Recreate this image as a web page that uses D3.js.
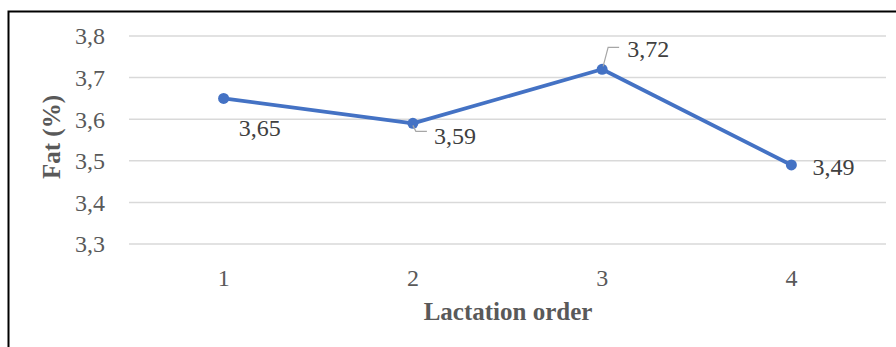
<!DOCTYPE html>
<html><head><meta charset="utf-8">
<script src="https://cdn.jsdelivr.net/npm/d3@7"></script>
<style>body{margin:0;background:#fff}svg{display:block}text{font-family:"Liberation Serif","Times New Roman",Times,serif}</style>
</head><body>
<script>
const categories = ["1","2","3","4"];
const fatValues = [3.65, 3.59, 3.72, 3.49];
const labels = ["3,65","3,59","3,72","3,49"];
const yTicks = [3.3,3.4,3.5,3.6,3.7,3.8];

const W=896,H=347;
const svg=d3.select("body").append("svg").attr("width",W).attr("height",H);
svg.append("rect").attr("x",8.5).attr("y",11.5).attr("width",W).attr("height",H).attr("fill","#fff").attr("stroke","#000").attr("stroke-width",2);

const x=d3.scaleBand().domain(categories).range([129,886]);
const y=d3.scaleLinear().domain([3.3,3.8]).range([244,36]);
const gray="#595959";
const fs=24;

svg.append("g").selectAll("line").data(yTicks).join("line")
 .attr("x1",129).attr("x2",886).attr("y1",d=>y(d)).attr("y2",d=>y(d))
 .attr("stroke","#d9d9d9").attr("stroke-width",1.5);

svg.append("g").selectAll("text").data(yTicks).join("text")
 .attr("x",105).attr("y",d=>y(d)).attr("dy","0.35em").attr("text-anchor","end")
 .attr("font-size",fs).attr("fill",gray)
 .text(d=>d.toFixed(1).replace(".",","));

svg.append("g").selectAll("text").data(categories).join("text")
 .attr("x",d=>x(d)+x.bandwidth()/2).attr("y",278).attr("dy","0.35em").attr("text-anchor","middle")
 .attr("font-size",fs).attr("fill",gray).text(d=>d);

svg.append("text").attr("x",508).attr("y",311).attr("dy","0.35em").attr("text-anchor","middle")
 .attr("font-size",fs+1).attr("font-weight","bold").attr("fill",gray).text("Lactation order");
svg.append("text").attr("transform","translate(51,137) rotate(-90)").attr("dy","0.35em").attr("text-anchor","middle")
 .attr("font-size",fs+1).attr("font-weight","bold").attr("fill",gray).text("Fat (%)");

const pts=categories.map((c,i)=>[x(c)+x.bandwidth()/2,y(fatValues[i])]);
svg.append("path").attr("d",d3.line()(pts)).attr("fill","none").attr("stroke","#4472C4").attr("stroke-width",3.8).attr("stroke-linejoin","round");
svg.append("g").selectAll("circle").data(pts).join("circle").attr("cx",d=>d[0]).attr("cy",d=>d[1]).attr("r",5.5).attr("fill","#4472C4");

const p2=pts[1],p3=pts[2];
svg.append("path").attr("d",`M${p2[0]},${p2[1]+2} L${p2[0]+3},${p2[1]+8} L${p2[0]+14},${p2[1]+8}`).attr("fill","none").attr("stroke","#a6a6a6").attr("stroke-width",1.2);
svg.append("path").attr("d",`M${p3[0]+1},${p3[1]-3} L${p3[0]+6},${p3[1]-22} L${p3[0]+17},${p3[1]-22}`).attr("fill","none").attr("stroke","#a6a6a6").attr("stroke-width",1.2);

const off=[[15,29],[21,12],[25,-21],[21,2]];
svg.append("g").selectAll("text").data(labels).join("text")
 .attr("x",(d,i)=>pts[i][0]+off[i][0]).attr("y",(d,i)=>pts[i][1]+off[i][1]).attr("dy","0.35em")
 .attr("font-size",fs).attr("fill","#404040").text(d=>d);
</script>
</body></html>
